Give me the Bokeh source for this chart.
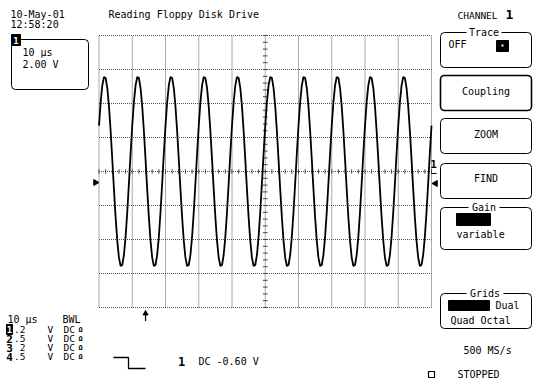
from bokeh.plotting import figure
from bokeh.models import Range1d
from bokeh.embed import file_html
from bokeh.resources import INLINE
from bokeh.core.properties import value
import numpy as np

# ---------------- data ----------------
time_per_div_us = 10          # 10 us / div
volts_per_div = 0.2           # channel 1: .2 V / div
n_hdiv, n_vdiv = 10, 8
samples_per_div = 20
trigger_time_us = 14.0

trace_v = [
    0.270, 0.408, 0.507, 0.556, 0.550, 0.491, 0.383, 0.238, 0.070, -0.105,
    -0.270, -0.408, -0.507, -0.556, -0.550, -0.491, -0.383, -0.238, -0.070, 0.105,
    0.270, 0.408, 0.507, 0.556, 0.550, 0.491, 0.383, 0.238, 0.070, -0.105,
    -0.270, -0.408, -0.507, -0.556, -0.550, -0.491, -0.383, -0.238, -0.070, 0.105,
    0.270, 0.408, 0.507, 0.556, 0.550, 0.491, 0.383, 0.238, 0.070, -0.105,
    -0.270, -0.408, -0.507, -0.556, -0.550, -0.491, -0.383, -0.238, -0.070, 0.105,
    0.270, 0.408, 0.507, 0.556, 0.550, 0.491, 0.383, 0.238, 0.070, -0.105,
    -0.270, -0.408, -0.507, -0.556, -0.550, -0.491, -0.383, -0.238, -0.070, 0.105,
    0.270, 0.408, 0.507, 0.556, 0.550, 0.491, 0.383, 0.238, 0.070, -0.105,
    -0.270, -0.408, -0.507, -0.556, -0.550, -0.491, -0.383, -0.238, -0.070, 0.105,
    0.270, 0.408, 0.507, 0.556, 0.550, 0.491, 0.383, 0.238, 0.070, -0.105,
    -0.270, -0.408, -0.507, -0.556, -0.550, -0.491, -0.383, -0.238, -0.070, 0.105,
    0.270, 0.408, 0.507, 0.556, 0.550, 0.491, 0.383, 0.238, 0.070, -0.105,
    -0.270, -0.408, -0.507, -0.556, -0.550, -0.491, -0.383, -0.238, -0.070, 0.105,
    0.270, 0.408, 0.507, 0.556, 0.550, 0.491, 0.383, 0.238, 0.070, -0.105,
    -0.270, -0.408, -0.507, -0.556, -0.550, -0.491, -0.383, -0.238, -0.070, 0.105,
    0.270, 0.408, 0.507, 0.556, 0.550, 0.491, 0.383, 0.238, 0.070, -0.105,
    -0.270, -0.408, -0.507, -0.556, -0.550, -0.491, -0.383, -0.238, -0.070, 0.105,
    0.270, 0.408, 0.507, 0.556, 0.550, 0.491, 0.383, 0.238, 0.070, -0.105,
    -0.270, -0.408, -0.507, -0.556, -0.550, -0.491, -0.383, -0.238, -0.070, 0.105,
    0.270,
]

h_ticks = [0, 10, 20, 30, 40, 50, 60, 70, 80, 90, 100]
v_ticks = [-0.8, -0.6, -0.4, -0.2, 0.0, 0.2, 0.4, 0.6, 0.8]

date_text = "10-May-01"
time_text = "12:58:20"
title_text = "Reading Floppy Disk Drive"
ch_numbers = ["1", "2", "3", "4"]
ch_scales = [".2", ".5", "2", ".5"]

# ---------------- layout (pixels) ----------------
W, H = 533, 382
SX0, SX1 = 98.5, 431.0     # screen left/right
SY0, SY1 = 35.0, 307.0     # screen top/bottom
FONT = value("DejaVu Sans Mono")

t_span = n_hdiv * time_per_div_us
v_half = n_vdiv / 2 * volts_per_div
t_start = 0 - SX0 / (SX1 - SX0) * t_span
t_end = t_span + (W - SX1) / (SX1 - SX0) * t_span
v_top = v_half + SY0 / (SY1 - SY0) * 2 * v_half
v_bot = -v_half - (H - SY1) / (SY1 - SY0) * 2 * v_half

p = figure(width=W, height=H, output_backend="svg", toolbar_location=None,
           x_range=Range1d(0, W), y_range=Range1d(H, 0),
           x_axis_location=None, y_axis_location=None, min_border=0)
p.grid.visible = False
p.outline_line_color = None
p.background_fill_color = "white"
p.border_fill_color = "white"
p.extra_x_ranges = {"t": Range1d(t_start, t_end)}
p.extra_y_ranges = {"v": Range1d(v_bot, v_top)}
S = dict(x_range_name="t", y_range_name="v")

# graticule
p.segment(x0=h_ticks, x1=h_ticks, y0=-v_half, y1=v_half, line_color="#555555",
          line_width=1, line_dash="1 1", **S)
p.segment(x0=0, x1=t_span, y0=v_ticks, y1=v_ticks, line_color="#555555",
          line_width=1, line_dash="1 1", **S)
# centre-line minor ticks
t_minor = np.arange(0, t_span + 0.01, time_per_div_us / 5)
v_minor = np.arange(-v_half, v_half + 1e-6, volts_per_div / 5)
p.segment(x0=t_minor, x1=t_minor, y0=-0.013, y1=0.013, line_color="#444444", **S)
p.segment(x0=t_span / 2 - 0.7, x1=t_span / 2 + 0.7, y0=v_minor, y1=v_minor,
          line_color="#444444", **S)

# trace
t = np.arange(len(trace_v)) * (time_per_div_us / samples_per_div)
p.line(t, trace_v, line_color="black", line_width=1.8, **S)

# trigger arrow
p.segment(x0=[trigger_time_us], x1=[trigger_time_us], y0=[-0.83], y1=[-0.88],
          line_color="black", line_width=1.2, **S)
p.scatter(x=[trigger_time_us], y=[-0.835], marker="triangle", size=5,
          color="black", **S)


def txt(x, y, s, size=10, align="left", color="black", style="normal"):
    p.text(x=[x], y=[y], text=[s], text_font=FONT, text_font_size=f"{size}px",
           text_baseline="middle", text_align=align, text_color=color,
           text_font_style=style)


def box(l, r, t_, b, lw=1.0, fill="white", radius=4):
    p.quad(left=[l], right=[r], top=[t_], bottom=[b], fill_color=fill,
           line_color="black", line_width=lw, border_radius=radius)


# top-left
txt(10, 13.5, date_text)
txt(10, 24, time_text)
txt(108, 13.5, title_text)

# channel box
box(11, 88, 39, 89)
p.quad(left=[11], right=[20], top=[34], bottom=[45], fill_color="black", line_color="black")
txt(15.5, 40, "1", size=9, align="center", color="white", style="bold")
txt(22, 51.5, "10 \u00b5s")
txt(22, 63.5, "2.00 V")

# channel markers on screen sides
p.scatter(x=[95], y=[182], marker="triangle", size=6, angle=-90,
          angle_units="deg", color="black")
p.scatter(x=[435], y=[183], marker="triangle", size=6, angle=90,
          angle_units="deg", color="black")
txt(433, 163, "1", size=11, align="center", style="bold")
p.line(x=[431, 436], y=[173, 173], line_color="black", line_width=1)

# right panel
txt(457, 15, "CHANNEL", size=9.5)
txt(505, 14, "1", size=13, style="bold")

box(440, 531, 32, 67)
p.quad(left=[466], right=[501], top=[29], bottom=[35], fill_color="white", line_color=None)
txt(483.5, 32, "Trace", align="center")
txt(448, 44, "OFF")
p.quad(left=[496], right=[508], top=[40], bottom=[51], fill_color="black", line_color="black")
p.quad(left=[501], right=[503], top=[44], bottom=[46], fill_color="white", line_color=None)

box(440, 531, 75, 110, lw=1.6)
txt(485.5, 91, "Coupling", align="center")
box(440, 531, 118, 153)
txt(485.5, 134, "ZOOM", align="center")
box(440, 531, 163, 198)
txt(485.5, 178, "FIND", align="center")

box(440, 531, 207, 249)
p.quad(left=[468], right=[499], top=[204], bottom=[210], fill_color="white", line_color=None)
txt(483.5, 207, "Gain", align="center")
p.quad(left=[456], right=[490], top=[213], bottom=[225], fill_color="black", line_color="black")
txt(456, 234, "variable")

box(440, 531, 293, 328)
p.quad(left=[466], right=[503], top=[290], bottom=[296], fill_color="white", line_color=None)
txt(484.5, 293, "Grids", align="center")
p.quad(left=[448], right=[489], top=[300], bottom=[310], fill_color="black", line_color="black")
txt(495, 305, "Dual")
txt(450, 320, "Quad Octal")

txt(463, 350, "500 MS/s")
p.quad(left=[428], right=[434], top=[371], bottom=[377], fill_color="white",
       line_color="black", line_width=1.2)
txt(457, 374, "STOPPED")

# bottom-left channel table
txt(7, 318.5, "10 \u00b5s")
txt(62, 318.5, "BWL")
row_y = [329, 338, 347, 356]
for i, (n, s) in enumerate(zip(ch_numbers, ch_scales)):
    y = row_y[i]
    if i == 0:
        p.quad(left=[6], right=[12], top=[y - 5], bottom=[y + 5], fill_color="black",
               line_color="black")
        txt(9, y, n, size=9, align="center", color="white", style="bold")
    else:
        txt(9, y, n, size=11, align="center", style="bold")
    txt(25, y, s, size=9.5, align="right")
    txt(47, y, "V", size=9.5)
    txt(63, y, "DC", size=9.5)
    txt(80, y, "\u03a9", size=7, align="center", style="bold")

# trigger step symbol and trigger level
p.line(x=[113, 128, 128, 145], y=[357, 357, 368, 368], line_color="black", line_width=1.3)
txt(181, 361, "1", size=12, align="center", style="bold")
txt(198, 361, "DC -0.60 V")

open("out.html", "w").write(file_html(p, INLINE))
